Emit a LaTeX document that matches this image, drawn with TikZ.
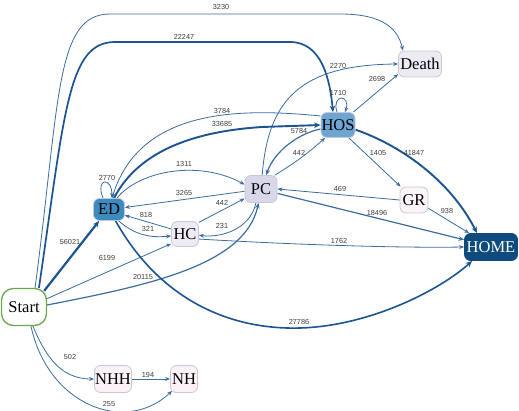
\documentclass[tikz,border=0pt]{standalone}
\usepackage{fontspec}
\setmainfont{Liberation Serif}
\newfontfamily\labfont{Liberation Sans}
\usetikzlibrary{arrows.meta}
\pgfdeclarelayer{bg}
\pgfsetlayers{bg,main}
\definecolor{edgec}{RGB}{58,108,160}
\definecolor{edgek}{RGB}{28,84,145}
\definecolor{bordc}{RGB}{200,200,212}
\definecolor{edfill}{RGB}{60,139,192}
\definecolor{hosfill}{RGB}{111,165,210}
\definecolor{pcfill}{RGB}{216,216,234}
\definecolor{hcfill}{RGB}{238,235,245}
\definecolor{deathfill}{RGB}{238,234,244}
\definecolor{grfill}{RGB}{250,244,248}
\definecolor{nhfill}{RGB}{251,241,247}
\definecolor{homefill}{RGB}{14,75,124}
\definecolor{startc}{RGB}{106,168,79}
\definecolor{labc}{RGB}{60,60,60}
\tikzset{
  box/.style={draw=bordc, line width=0.8pt, rounded corners=6pt, inner sep=0pt,
    font=\fontsize{16.5}{18}\selectfont},
  lab/.style={font=\labfont\fontsize{7.3}{8}\selectfont, text=labc, inner sep=0.5pt},
  thin/.style={draw=edgec, line width=0.8pt, -{Stealth[length=5pt,width=4pt]}},
  mid/.style={draw=edgec, line width=1.2pt, -{Stealth[length=5.5pt,width=4.5pt]}},
  thick/.style={draw=edgek, line width=1.9pt, -{Stealth[length=6.5pt,width=5.5pt]}},
}
\begin{document}
\begin{tikzpicture}[x=1pt,y=-1pt]
\useasboundingbox (0,0) rectangle (519,411);
% nodes
\node[box, draw=startc, line width=1.3pt, rounded corners=12pt, fill=white, minimum width=45pt, minimum height=37pt] (Start) at (24,307) {Start};
\node[box, fill=edfill, minimum width=31pt, minimum height=22pt] (ED) at (109,209.5) {ED};
\node[box, fill=hcfill, minimum width=27pt, minimum height=25pt] (HC) at (185,234) {HC};
\node[box, fill=pcfill, minimum width=32pt, minimum height=27pt] (PC) at (261,189) {PC};
\node[box, fill=hosfill, minimum width=34pt, minimum height=25pt] (HOS) at (338,125) {HOS};
\node[box, fill=deathfill, minimum width=43pt, minimum height=26pt] (Death) at (420,64) {Death};
\node[box, fill=grfill, minimum width=28pt, minimum height=26pt] (GR) at (414,200) {GR};
\node[box, fill=homefill, draw=homefill, text=white, minimum width=53pt, minimum height=27pt] (HOME) at (491,247) {HOME};
\node[box, fill=nhfill, minimum width=37pt, minimum height=27pt] (NHH) at (113,379) {NHH};
\node[box, fill=nhfill, minimum width=27pt, minimum height=27pt] (NH) at (184,379) {NH};

\begin{pgfonlayer}{bg}
% from Start
\draw[thin] (Start.60) .. controls (60,100) and (55,14) .. (110,14) -- (340,14) .. controls (385,14) and (398,30) .. ([xshift=-17pt]Death.north);
\draw[thick, line width=1.7pt] (Start.52) .. controls (65,110) and (68,42) .. (115,42) -- (290,42) .. controls (322,42) and (330,80) .. ([xshift=-5pt]HOS.north);
\draw[thick, line width=2.2pt] ([xshift=-3pt,yshift=-3pt]Start.north east) -- ([xshift=6pt]ED.south west);
\draw[thin] (Start.20) -- (HC.215);
\draw[mid] (Start.5) .. controls (150,285) and (245,265) .. (PC.260);
\draw[thin] (Start.295) .. controls (45,355) and (60,379) .. (NHH.west);
\draw[thin] (Start.290) .. controls (48,405) and (125,435) .. ([xshift=2pt,yshift=2pt]NH.south west);
\draw[thin] (NHH.east) -- (NH.west);
% ED
\draw[thin] ([xshift=-6pt]ED.north) .. controls (95,178) and (112,176) .. ([xshift=3pt]ED.north);
\draw[thick] ([xshift=5pt]ED.north) .. controls (140,148) and (200,131) .. (262,127) -- (HOS.west);
\draw[thin] ([yshift=9pt]HOS.west) .. controls (240,108) and (140,108) .. ([xshift=3pt]ED.north);
\draw[thin] ([xshift=8pt]ED.north) .. controls (140,170) and (200,160) .. (PC.165);
\draw[thin] (PC.188) -- ([yshift=2pt]ED.east);
\draw[thin] (HC.160) -- (ED.-20);
\draw[thin] (ED.-50) .. controls (135,235) and (150,238) .. (HC.188);
\draw[thick, line width=1.6pt] (ED.-60) .. controls (160,300) and (230,330) .. (300,328) .. controls (370,326) and (440,290) .. ([xshift=8pt]HOME.south west);
% HC
\draw[thin] (HC.40) -- (PC.210);
\draw[thin] (PC.250) .. controls (250,230) and (220,238) .. (HC.-5);
\draw[thin] (HC.-20) .. controls (300,245) and (400,248) .. (HOME.west);
% PC / HOS
\draw[thin] (PC.45) to[bend right=5] (HOS.225);
\draw[mid] ([yshift=-4pt]HOS.west) .. controls (300,133) and (275,150) .. (PC.70);
\draw[thin] (PC.85) .. controls (268,100) and (300,65) .. (Death.west);
\draw[thin] (HOS.40) -- (Death.205);
\draw[thin] ([xshift=-1pt]HOS.north) .. controls (331,94) and (351,94) .. ([xshift=7pt]HOS.north);
\draw[thin] (HOS.-50) -- (GR.135);
\draw[thick] (HOS.-15) .. controls (400,145) and (450,180) .. ([xshift=-14pt]HOME.north);
\draw[thin] (GR.west) -- (PC.east);
\draw[mid] (PC.-15) -- (HOME.165);
\draw[thin] (GR.-30) -- ([xshift=5pt]HOME.north west);
\end{pgfonlayer}

% labels
\node[lab] (l3230) at (221,7) {3230};
\node[lab] (l22247) at (184,37) {22247};
\node[lab] (l3784) at (222,111) {3784};
\node[lab] (l33685) at (222,124) {33685};
\node[lab] (l2270) at (338,66) {2270};
\node[lab] (l1710) at (338,93) {1710};
\node[lab] (l2698) at (377,79) {2698};
\node[lab] (l5784) at (299,131) {5784};
\node[lab] (l442a) at (299,153) {442};
\node[lab] (l1405) at (378,153) {1405};
\node[lab] (l41847) at (414,153) {41847};
\node[lab] (l469) at (340,189) {469};
\node[lab] (l18496) at (377,213) {18496};
\node[lab] (l938) at (447,211) {938};
\node[lab] (l1762) at (339,241) {1762};
\node[lab] (l1311) at (184,164) {1311};
\node[lab] (l3265) at (184,193) {3265};
\node[lab] (l2770) at (107,178) {2770};
\node[lab] (l818) at (146,215) {818};
\node[lab] (l321) at (148,229) {321};
\node[lab] (l442b) at (222,203) {442};
\node[lab] (l231) at (222,226) {231};
\node[lab] (l6199) at (107,258) {6199};
\node[lab] (l20115) at (143,277) {20115};
\node[lab] (l56021) at (70,242) {56021};
\node[lab] (l502) at (70,357) {502};
\node[lab] (l194) at (148,375) {194};
\node[lab] (l255) at (109,404) {255};
\node[lab] (l27786) at (299,322) {27786};
\end{tikzpicture}
\end{document}
